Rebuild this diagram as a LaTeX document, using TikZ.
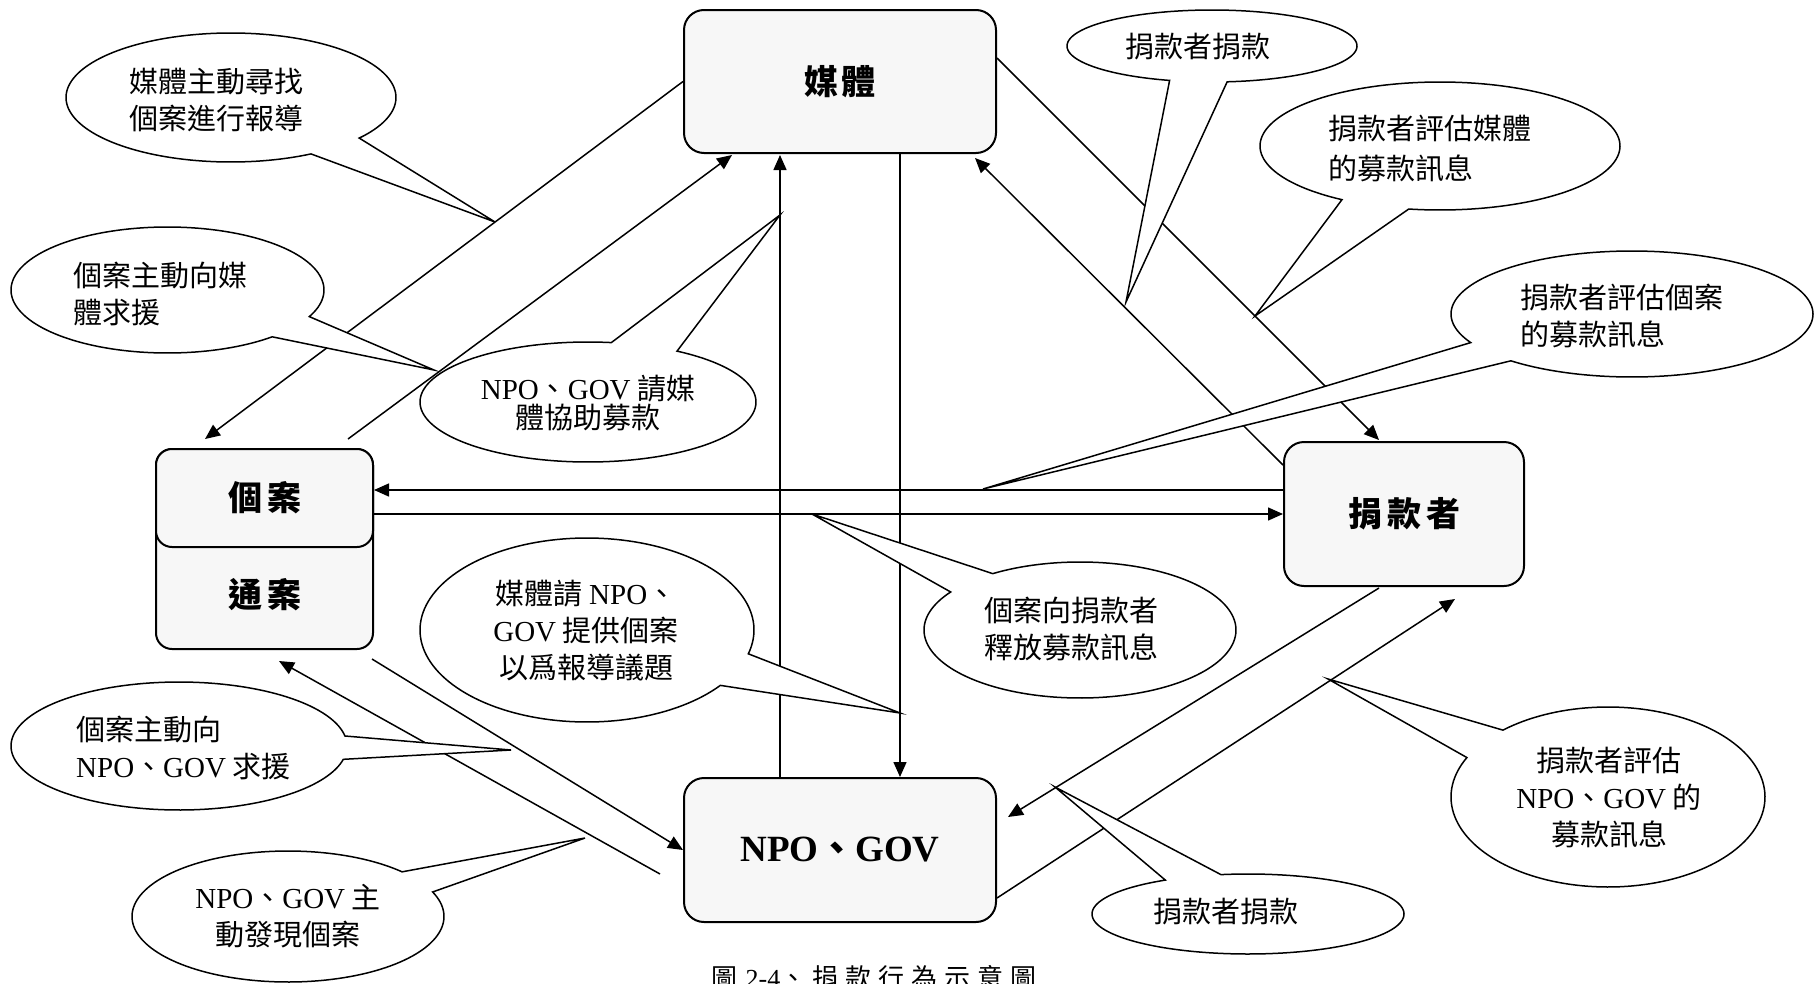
\documentclass[tikz,border=0pt]{standalone}
\usepackage{fontspec}
\setmainfont{Liberation Serif}
\newfontfamily\cjk{Noto Sans CJK TC}
\usetikzlibrary{arrows.meta,calc}
\definecolor{boxfill}{HTML}{F7F7F7}
\newcommand{\lat}[1]{{\rmfamily #1}}
\newcommand{\mycallout}[7]{%
  \pgfmathsetmacro{\tendang}{#5+360}%
  \draw[bubble] (#7) -- ({#1+#3*cos(#6)},{#2+#4*sin(#6)}) -- plot[domain=#6:\tendang, samples=150, variable=\q] ({#1+#3*cos(\q)},{#2+#4*sin(\q)}) -- cycle;%
}
\begin{document}
\begin{tikzpicture}[x=1pt,y=-1pt,
  box/.style={draw, line width=2pt, fill=boxfill, rounded corners=20pt, inner sep=0pt,
    font=\cjk\bfseries\fontsize{34}{40}\selectfont},
  conn/.style={line width=1.5pt, -{Triangle[length=15pt,width=13pt]}},
  bubble/.style={draw, line width=1.5pt, fill=white, line join=miter},
  ct/.style={font=\cjk\fontsize{29}{37}\selectfont, inner sep=0pt}]
\fill[white] (0,0) rectangle (1816,983);
\useasboundingbox (0,0) rectangle (1816,983);

% main boxes
\node[box, minimum width=312pt, minimum height=143pt] (M) at (840,81.5) {媒\hspace{3pt}體};
\node[box, minimum width=217pt, minimum height=200pt, rounded corners=16pt] (C) at (264.5,549) {};
\node[box, minimum width=217pt, minimum height=98pt, rounded corners=16pt] (C1) at (264.5,498) {個\hspace{5pt}案};
\node[font=\cjk\bfseries\fontsize{34}{40}\selectfont, inner sep=0pt] (C2) at (264.5,595) {通\hspace{5pt}案};
\node[box, minimum width=240pt, minimum height=144pt] (D) at (1404,514) {捐\hspace{5pt}款\hspace{5pt}者};
\node[box, minimum width=312pt, minimum height=144pt,
  font=\rmfamily\bfseries\fontsize{37}{40}\selectfont] (N) at (840,850) {NPO{\cjk 、}GOV};

% connectors
\draw[conn] (M.west) -- ($(C.north)+(-59.5,-9)$);
\draw[conn] ($(C.north)+(83.5,-9)$) -- ($(M.south)+(-108,1)$);
\draw[conn] ($(N.north)+(-60,0)$) -- ($(M.south)+(-60,1)$);
\draw[conn] ($(M.south)+(60,0)$) -- ($(N.north)+(60,0)$);
\draw[conn] ($(M.east)+(0,-23.5)$) -- ($(D.north)+(-25,-1)$);
\draw[conn] ($(D.west)+(0,-49)$) -- ($(M.south)+(135,4)$);
\draw[conn] ($(D.west)+(0,-24)$) -- ($(C.east)+(0,-59)$);
\draw[conn] ($(C.east)+(0,-35)$) -- (D.west);
\draw[conn] ($(N.west)+(-23,24)$) -- ($(C.south)+(14.5,11)$);
\draw[conn] ($(C.south)+(107.5,9)$) -- (N.west);
\draw[conn] ($(D.south)+(-25,1)$) -- ($(N.east)+(11,-33)$);
\draw[conn] ($(N.east)+(0,48)$) -- ($(D.south)+(51,12)$);

% callout tips
\coordinate (tipA) at (495,222);
\coordinate (tipB) at (434,370);
\coordinate (tipC) at (780,215);
\coordinate (tipD) at (1126,302);
\coordinate (tipE) at (1255,316);
\coordinate (tipF) at (983,489);
\coordinate (tipG) at (812,514);
\coordinate (tipH) at (900,713);
\coordinate (tipI) at (511,750);
\coordinate (tipJ) at (585,838);
\coordinate (tipK) at (1055,787);
\coordinate (tipL) at (1328,679);

% callouts
\mycallout{231}{97.5}{165}{64.5}{39}{61}{tipA}
\mycallout{167.5}{290}{156.5}{63}{25}{48}{tipB}
\mycallout{588}{402}{168}{60}{-82}{-58}{tipC}
\mycallout{1212}{46}{145}{36}{84}{107}{tipD}
\mycallout{1440}{146}{180}{64}{100}{123}{tipE}
\mycallout{1632}{314}{181}{63}{132}{153}{tipF}
\mycallout{1080}{630}{156}{68}{-146}{-124}{tipG}
\mycallout{587}{630}{167}{92}{15}{37}{tipH}
\mycallout{179}{746}{168}{64}{-9}{12}{tipI}
\mycallout{288}{916.5}{156}{65.5}{-43}{-22}{tipJ}
\mycallout{1248}{914}{156}{40}{-122}{-100}{tipK}
\mycallout{1608}{797}{157}{90}{-154}{-132}{tipL}

% callout texts
\node[ct, anchor=west, align=left] (tA) at (129,100) {媒體主動尋找\\個案進行報導};
\node[ct, anchor=west, align=left] (tB) at (73,293.5) {個案主動向媒\\體求援};
\node[ct, align=center, font=\cjk\fontsize{29}{29}\selectfont] (tC) at (588,403) {\lat{NPO}、\lat{GOV} 請媒\\體協助募款};
\node[ct] (tD) at (1198,47) {捐款者捐款};
\node[ct, anchor=west, align=left, font=\cjk\fontsize{29}{40}\selectfont] (tE) at (1328,148) {捐款者評估媒體\\的募款訊息};
\node[ct, anchor=west, align=left] (tF) at (1520,316) {捐款者評估個案\\的募款訊息};
\node[ct, anchor=west, align=left] (tG) at (984,629) {個案向捐款者\\釋放募款訊息};
\node[ct, align=center] (tH) at (586,631) {媒體請 \lat{NPO}、\\\lat{GOV} 提供個案\\以爲報導議題};
\node[ct, anchor=west, align=left] (tI) at (76,747.5) {個案主動向\\\lat{NPO}、\lat{GOV} 求援};
\node[ct, align=center] (tJ) at (288,916.5) {\lat{NPO}、\lat{GOV} 主\\動發現個案};
\node[ct] (tK) at (1226,912) {捐款者捐款};
\node[ct, align=center] (tL) at (1609,797.5) {捐款者評估\\\lat{NPO}、\lat{GOV} 的\\募款訊息};

% caption (cut off by the page edge as in the reference)
\node[font=\cjk\fontsize{26}{30}\selectfont, inner sep=0pt, anchor=base] (cap) at (874,987)
  {圖\hspace{8pt}\lat{2-4}、\hspace{6pt}捐\hspace{7pt}款\hspace{7pt}行\hspace{7pt}為\hspace{7pt}示\hspace{7pt}意\hspace{7pt}圖};
\end{tikzpicture}
\end{document}
